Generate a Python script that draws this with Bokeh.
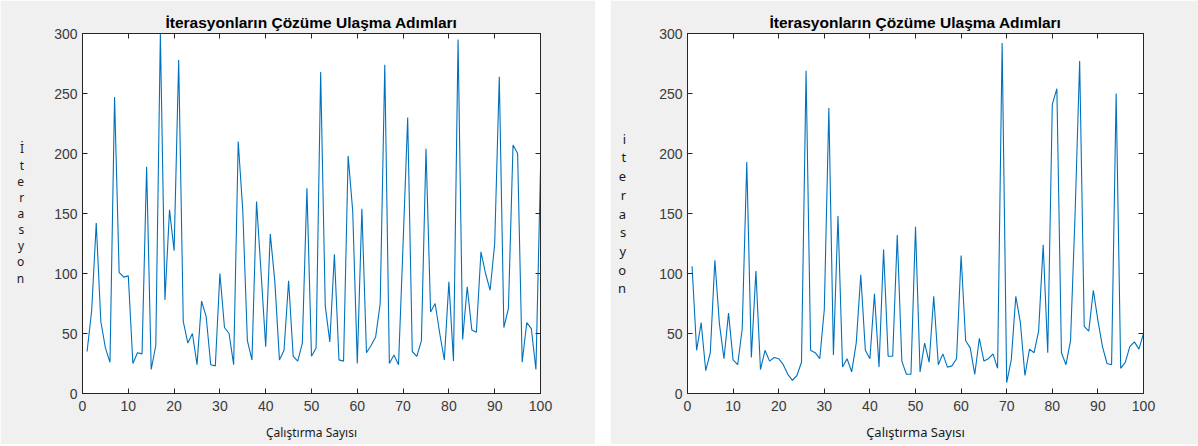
from bokeh.plotting import figure
from bokeh.models import Range1d, FixedTicker, LinearAxis, Spacer
from bokeh.layouts import row
from bokeh.embed import file_html
from bokeh.resources import INLINE

runs = list(range(1, 101))

iter_left = [35, 69, 142, 60, 38, 26, 247, 101, 97, 98,
             25, 34, 33, 189, 20, 40, 300, 78, 153, 119,
             278, 60, 42, 50, 24, 77, 64, 24, 23, 100,
             55, 50, 24, 210, 152, 44, 28, 160, 100, 39,
             133, 93, 28, 36, 94, 31, 27, 42, 171, 31,
             38, 268, 73, 43, 116, 28, 27, 198, 152, 25,
             154, 34, 40, 47, 75, 274, 25, 32, 24, 125,
             230, 35, 31, 44, 204, 68, 75, 50, 28, 93,
             27, 295, 45, 89, 53, 51, 118, 100, 86, 125,
             264, 55, 71, 207, 200, 26, 59, 54, 20, 187]

iter_right = [106, 36, 59, 19, 34, 111, 58, 29, 67, 28,
              24, 54, 193, 30, 102, 20, 36, 27, 30, 29,
              24, 16, 11, 15, 26, 269, 36, 34, 29, 70,
              238, 32, 148, 22, 29, 18, 42, 99, 36, 29,
              83, 22, 120, 31, 31, 132, 27, 16, 16, 139,
              18, 42, 26, 81, 24, 33, 22, 23, 29, 115,
              44, 38, 16, 46, 27, 29, 33, 21, 292, 9,
              28, 81, 59, 15, 37, 34, 52, 124, 34, 241,
              254, 34, 24, 44, 150, 277, 56, 52, 86, 61,
              39, 25, 24, 250, 21, 26, 39, 43, 37, 50]

x_ticks = [0, 10, 20, 30, 40, 50, 60, 70, 80, 90, 100]
y_ticks = [0, 50, 100, 150, 200, 250, 300]

title_text = "İterasyonların Çözüme Ulaşma Adımları"
x_label_text = "Çalıştırma Sayısı"
y_label_left = "İterasyon"
y_label_right = "iterasyon"

GRAY = "#f0f0f0"
AXC = "#262626"
LINE = "#0072BD"


def style_axis(ax, ticks, show_labels, standoff):
    ax.ticker = FixedTicker(ticks=ticks)
    ax.major_tick_in = 5
    ax.major_tick_out = 0
    ax.minor_tick_line_color = None
    ax.axis_line_color = AXC
    ax.major_tick_line_color = AXC
    ax.major_label_standoff = standoff
    ax.major_label_text_font = "Liberation Sans"
    ax.major_label_text_font_size = "14px"
    ax.major_label_text_color = "#3a3a3a"
    if not show_labels:
        ax.major_label_overrides = {t: "" for t in ticks}


def panel(ys, width, b_left, b_right, ylab, y_standoff, y_size, y_lh,
          x_size, x_standoff):
    p = figure(width=width, height=444, x_range=Range1d(0, 100),
               y_range=Range1d(0, 300), output_backend="svg",
               toolbar_location=None, min_border_left=b_left,
               min_border_right=b_right, min_border_top=33,
               min_border_bottom=51)
    p.border_fill_color = GRAY
    p.background_fill_color = "white"
    p.outline_line_color = AXC
    p.xgrid.grid_line_color = None
    p.ygrid.grid_line_color = None

    p.title.text = title_text
    p.title.align = "center"
    p.title.text_font = "Liberation Sans"
    p.title.text_font_style = "bold"
    p.title.text_font_size = "15.5px"
    p.title.text_color = "black"
    p.title.standoff = 5

    xa = p.xaxis[0]
    style_axis(xa, x_ticks, True, 7)
    xa.axis_label = x_label_text
    xa.axis_label_standoff = x_standoff
    xa.axis_label_text_font = "Noto Sans"
    xa.axis_label_text_font_style = "normal"
    xa.axis_label_text_font_size = x_size
    xa.axis_label_text_color = "#1a1a1a"

    ya = p.yaxis[0]
    style_axis(ya, y_ticks, True, 5)
    ya.axis_label = "\n".join(ylab)
    ya.axis_label_orientation = "horizontal"
    ya.axis_label_standoff = y_standoff
    ya.axis_label_text_font = "Noto Sans"
    ya.axis_label_text_font_style = "normal"
    ya.axis_label_text_font_size = y_size
    ya.axis_label_text_line_height = y_lh
    ya.axis_label_text_align = "center"
    ya.axis_label_text_color = "#1a1a1a"

    top = LinearAxis()
    style_axis(top, x_ticks, False, 0)
    p.add_layout(top, "above")
    right = LinearAxis()
    style_axis(right, y_ticks, False, 0)
    p.add_layout(right, "right")

    p.line(runs, ys, line_color=LINE, line_width=1.1)
    return p


p1 = panel(iter_left, 595, 82, 55, y_label_left, 27, "12px", 0.95, "12px", 10)
p2 = panel(iter_right, 588, 77, 55, y_label_right, 30, "13px", 1.04, "13px", 9)

layout = row(p1, Spacer(width=15, height=444), p2)

open("out.html", "w").write(file_html(layout, INLINE))
